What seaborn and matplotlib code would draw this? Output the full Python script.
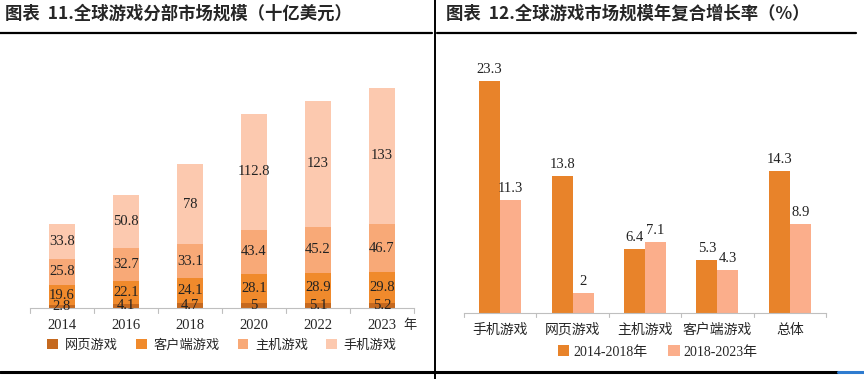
import matplotlib
matplotlib.use("Agg")
import matplotlib.pyplot as plt
import seaborn as sns
import pandas as pd
import numpy as np
from matplotlib.patches import Patch
from matplotlib.lines import Line2D

sns.set_style("white")
plt.rcParams['font.family'] = ['Liberation Serif', 'Noto Sans CJK SC', 'DejaVu Sans']

# ---- data ----
years = ["2014", "2016", "2018", "2020", "2022", "2023"]
seg_names = ["网页游戏", "客户端游戏", "主机游戏", "手机游戏"]
web = [2.8, 4.1, 4.7, 5, 5.1, 5.2]
client = [19.6, 22.1, 24.1, 28.1, 28.9, 29.8]
console = [25.8, 32.7, 33.1, 43.4, 45.2, 46.7]
mobile = [33.8, 50.8, 78, 112.8, 123, 133]

cagr_cats = ["手机游戏", "网页游戏", "主机游戏", "客户端游戏", "总体"]
cagr_1418 = [23.3, 13.8, 6.4, 5.3, 14.3]
cagr_1823 = [11.3, 2, 7.1, 4.3, 8.9]
period_names = ["2014-2018年", "2018-2023年"]

seg_colors = ["#C5691F", "#F08A2C", "#F8A977", "#FCC9AF"]
per_colors = ["#E8832A", "#FBAE8B"]

W, H = 864, 379
fig = plt.figure(figsize=(W / 100, H / 100), dpi=100)

def px_axes(x0, y_top, x1, y_bot):
    return fig.add_axes([x0 / W, 1 - y_bot / H, (x1 - x0) / W, (y_bot - y_top) / H])

cjk = ['Noto Sans CJK SC', 'DejaVu Sans']

# ---- decorations ----
fig.text(5 / W, 1 - 14 / H, "图表  11.全球游戏分部市场规模（十亿美元）", family=cjk,
         fontsize=12.5, fontweight='bold', va='center', ha='left')
fig.text(446 / W, 1 - 14 / H, "图表  12.全球游戏市场规模年复合增长率（%）", family=cjk,
         fontsize=12.5, fontweight='bold', va='center', ha='left')
fig.add_artist(Line2D([0, 432 / W], [1 - 33 / H] * 2, color='black', lw=1.6, transform=fig.transFigure))
fig.add_artist(Line2D([437 / W, 856 / W], [1 - 33 / H] * 2, color='black', lw=1.6, transform=fig.transFigure))
fig.add_artist(Line2D([435 / W] * 2, [0, 1], color='black', lw=1.4, transform=fig.transFigure))
fig.add_artist(Line2D([0, 838 / W], [1 - 372 / H] * 2, color='black', lw=2.2, transform=fig.transFigure))
fig.add_artist(Line2D([838 / W, 1], [1 - 372 / H] * 2, color='#2E7BCF', lw=2.2, transform=fig.transFigure))

# ---- left: stacked bars ----
axL = px_axes(30, 72, 414, 308)
layers = [np.array(web), np.array(client), np.array(console), np.array(mobile)]
cums = np.cumsum(np.array(layers), axis=0)
for i in range(3, -1, -1):
    sns.barplot(x=years, y=cums[i], color=seg_colors[i], width=0.42, ax=axL,
                saturation=1, edgecolor='none', linewidth=0)
for i in range(4):
    base = cums[i] - layers[i]
    for j, y in enumerate(years):
        axL.text(j, base[j] + layers[i][j] / 2, f"{layers[i][j]:g}", ha='center', va='center',
                 fontsize=10.5, color='#222222')
axL.set_ylim(0, 230)
axL.set_xlim(-0.5, 5.5)
axL.set_yticks([])
axL.set_xlabel("")
axL.set_ylabel("")
for s in ['top', 'right', 'left']:
    axL.spines[s].set_visible(False)
axL.spines['bottom'].set_color('#BFBFBF')
axL.set_xticks(range(len(years)))
axL.set_xticklabels(years, fontsize=10.5)
axL.tick_params(axis='x', length=0, pad=8)
for b in np.arange(-0.5, 6, 1):
    axL.plot([b, b], [0, -5], color='#BFBFBF', lw=0.8, clip_on=False)
fig.text(410 / W, 1 - 325 / H, "年", family=cjk, fontsize=9.5, ha='center', va='center')
handles = [Patch(facecolor=c, edgecolor='none') for c in seg_colors]
fig.legend(handles, seg_names, loc='center', bbox_to_anchor=(222 / W, 1 - 345 / H),
           ncol=4, frameon=False, prop={'family': cjk, 'size': 9.5},
           handlelength=0.8, handleheight=0.8, handletextpad=0.5, columnspacing=1.4)

# ---- right: grouped bars ----
axR = px_axes(464, 64, 826, 313)
dfr = pd.DataFrame({
    "cat": cagr_cats * 2,
    "val": cagr_1418 + cagr_1823,
    "period": [period_names[0]] * len(cagr_cats) + [period_names[1]] * len(cagr_cats),
})
sns.barplot(data=dfr, x="cat", y="val", hue="period", palette=per_colors, width=0.58,
            saturation=1, ax=axR, edgecolor='none', linewidth=0, legend=False)
for cont in axR.containers:
    for bar in cont:
        h = bar.get_height()
        axR.text(bar.get_x() + bar.get_width() / 2, h + 0.5, f"{h:g}", ha='center', va='bottom',
                 fontsize=10.5, color='#222222')
axR.set_ylim(0, 25)
axR.set_xlim(-0.5, 4.5)
axR.set_yticks([])
axR.set_xlabel("")
axR.set_ylabel("")
for s in ['top', 'right', 'left']:
    axR.spines[s].set_visible(False)
axR.spines['bottom'].set_color('#BFBFBF')
axR.set_xticks(range(len(cagr_cats)))
axR.set_xticklabels(cagr_cats, fontsize=10, family=cjk)
axR.tick_params(axis='x', length=0, pad=7)
for b in np.arange(-0.5, 5, 1):
    axR.plot([b, b], [0, -0.45], color='#BFBFBF', lw=0.8, clip_on=False)
handlesR = [Patch(facecolor=c, edgecolor='none') for c in per_colors]
fig.legend(handlesR, period_names, loc='center', bbox_to_anchor=(658 / W, 1 - 352 / H),
           ncol=2, frameon=False, prop={'family': ['Liberation Serif', 'Noto Sans CJK SC'], 'size': 10},
           handlelength=0.8, handleheight=0.8, handletextpad=0.3, columnspacing=1.5)

fig.savefig("out.png", dpi=100)
